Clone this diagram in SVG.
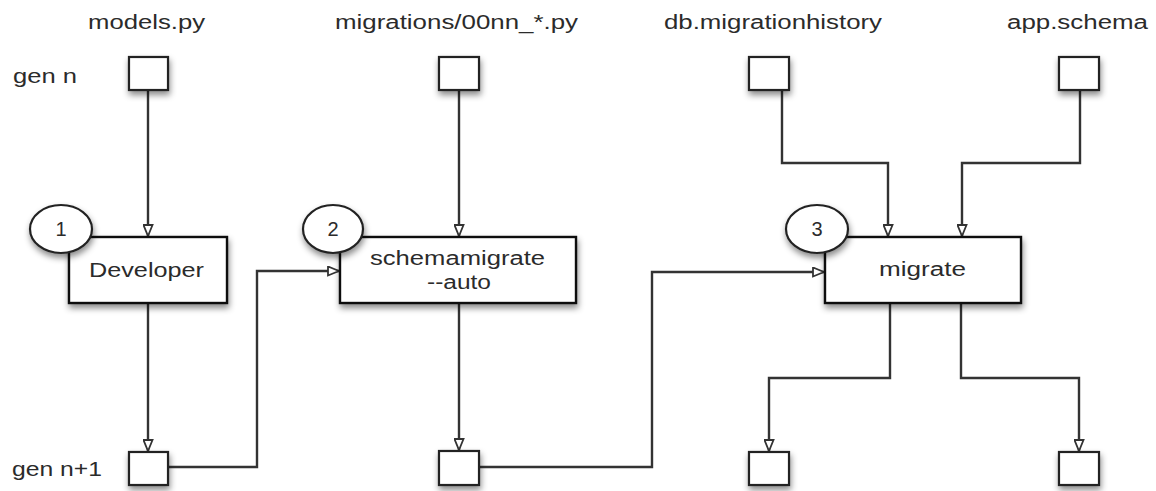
<svg xmlns="http://www.w3.org/2000/svg" width="1156" height="491" viewBox="0 0 1156 491">
<defs>
<filter id="sh" x="-30%" y="-30%" width="160%" height="170%">
<feDropShadow dx="1" dy="4" stdDeviation="3" flood-color="#000" flood-opacity="0.45"/>
</filter>
<marker id="arr" viewBox="0 0 13 11" refX="13" refY="5.5" markerWidth="13" markerHeight="11" markerUnits="userSpaceOnUse" orient="auto">
<path d="M1,1 L12,5.5 L1,10 Z" fill="#fff" stroke="#333" stroke-width="1.8" stroke-linejoin="miter"/>
</marker>
</defs>
<style>
.lbl{font-family:"Liberation Sans",Arial,sans-serif;font-size:20px;fill:#2b2b2b}
.sq{fill:#fff;stroke:#222;stroke-width:2.2;filter:url(#sh)}
.box{fill:#fff;stroke:#111;stroke-width:2.4;filter:url(#sh)}
.num{fill:#fff;stroke:#222;stroke-width:2.2;filter:url(#sh)}
.c{fill:none;stroke:#333;stroke-width:2.4;marker-end:url(#arr)}
</style>
<rect width="1156" height="491" fill="#fff"/>

<g id="labels">
<text class="lbl" x="88" y="29" textLength="117" lengthAdjust="spacingAndGlyphs">models.py</text>
<text class="lbl" x="335" y="29" textLength="243" lengthAdjust="spacingAndGlyphs">migrations/00nn_*.py</text>
<text class="lbl" x="664" y="29" textLength="218" lengthAdjust="spacingAndGlyphs">db.migrationhistory</text>
<text class="lbl" x="1007" y="29" textLength="141" lengthAdjust="spacingAndGlyphs">app.schema</text>
<text class="lbl" x="13" y="83" textLength="64" lengthAdjust="spacingAndGlyphs">gen n</text>
<text class="lbl" x="12" y="476" textLength="90" lengthAdjust="spacingAndGlyphs">gen n+1</text>
</g>

<g id="connectors">
<path class="c" d="M148,90 V237"/>
<path class="c" d="M148,303 V452"/>
<path class="c" d="M168,467 H257 V271 H340"/>
<path class="c" d="M459,90 V237"/>
<path class="c" d="M459,303 V451"/>
<path class="c" d="M479,467 H652 V272 H825"/>
<path class="c" d="M782,90 V163 H888 V237"/>
<path class="c" d="M1080,90 V163 H962 V237"/>
<path class="c" d="M890,303 V378 H769 V452"/>
<path class="c" d="M961,303 V378 H1079 V452"/>
</g>

<g id="models-gen-n"><rect class="sq" x="129" y="57" width="39" height="33"/></g>
<g id="migrations-gen-n"><rect class="sq" x="439" y="57" width="40" height="33"/></g>
<g id="history-gen-n"><rect class="sq" x="749" y="57" width="40" height="33"/></g>
<g id="schema-gen-n"><rect class="sq" x="1059" y="57" width="40" height="33"/></g>

<g id="models-gen-n1"><rect class="sq" x="129" y="452" width="39" height="33"/></g>
<g id="migrations-gen-n1"><rect class="sq" x="439" y="451" width="40" height="34"/></g>
<g id="history-gen-n1"><rect class="sq" x="749" y="452" width="40" height="33"/></g>
<g id="schema-gen-n1"><rect class="sq" x="1059" y="452" width="40" height="33"/></g>

<g id="developer">
<rect class="box" x="69" y="237" width="158" height="66"/>
<ellipse class="num" cx="61" cy="229" rx="31" ry="24"/>
<text class="lbl" x="61" y="236" text-anchor="middle">1</text>
<text class="lbl" x="89" y="277" textLength="115" lengthAdjust="spacingAndGlyphs">Developer</text>
</g>

<g id="schemamigrate">
<rect class="box" x="340" y="237" width="236" height="66"/>
<ellipse class="num" cx="333" cy="229" rx="30" ry="24"/>
<text class="lbl" x="333" y="236" text-anchor="middle">2</text>
<text class="lbl" x="370" y="265" textLength="175" lengthAdjust="spacingAndGlyphs">schemamigrate</text>
<text class="lbl" x="427" y="289" textLength="64" lengthAdjust="spacingAndGlyphs">--auto</text>
</g>

<g id="migrate">
<rect class="box" x="825" y="237" width="196" height="66"/>
<ellipse class="num" cx="817" cy="229" rx="31" ry="24"/>
<text class="lbl" x="817" y="236" text-anchor="middle">3</text>
<text class="lbl" x="879" y="276" textLength="87" lengthAdjust="spacingAndGlyphs">migrate</text>
</g>
</svg>
